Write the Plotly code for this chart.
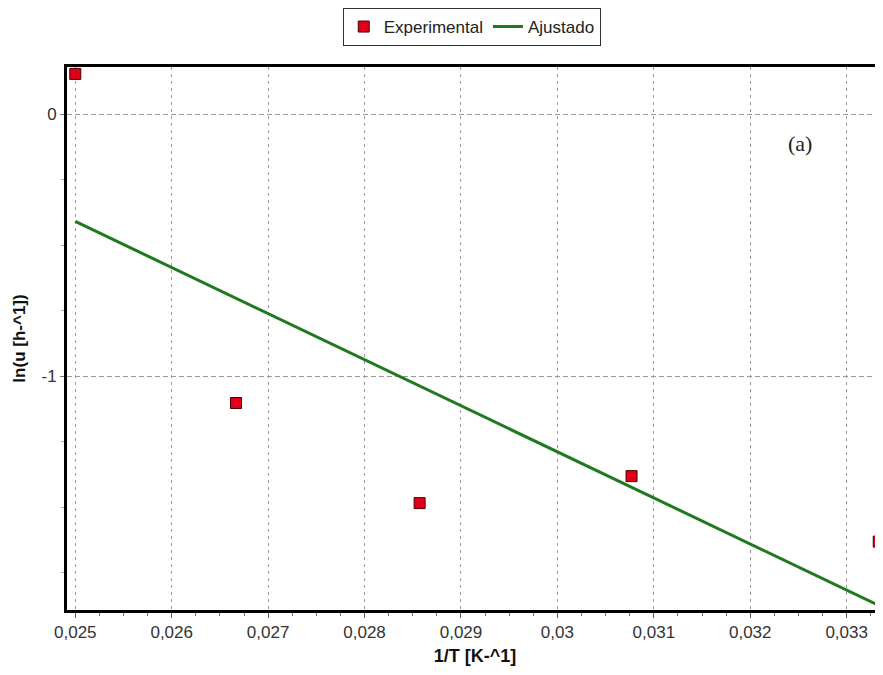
import plotly.graph_objects as go

# Data
inv_T = [0.025, 0.026667, 0.028571, 0.030769, 0.033333]
ln_u = [0.153, -1.103, -1.485, -1.382, -1.632]
fit_x = [0.025, 0.03333]
fit_y = [-0.41, -1.875]

x_tickvals = [0.025, 0.026, 0.027, 0.028, 0.029, 0.030, 0.031, 0.032, 0.033]
x_ticktext = ["0,025", "0,026", "0,027", "0,028", "0,029", "0,03", "0,031", "0,032", "0,033"]
y_tickvals = [0, -1]
y_ticktext = ["0", "-1"]

fig = go.Figure()
fig.add_trace(go.Scatter(
    x=inv_T, y=ln_u, mode="markers", name="Experimental",
    marker=dict(symbol="square", size=11, color="#e0001a",
                line=dict(color="#4a0000", width=1)),
))
fig.add_trace(go.Scatter(
    x=fit_x, y=fit_y, mode="lines", name="Ajustado",
    line=dict(color="#1f7a1f", width=3),
))

fig.add_annotation(
    x=0.032516, y=-0.111, xref="x", yref="y", text="(a)", showarrow=False,
    font=dict(family="Liberation Serif, DejaVu Serif, serif", size=22, color="#222"),
)

font_family = "Liberation Sans, Arial, sans-serif"
fig.update_layout(
    width=875, height=667,
    margin=dict(l=59, r=0, t=59, b=65),
    paper_bgcolor="white", plot_bgcolor="white",
    font=dict(family=font_family, size=16, color="#222"),
    showlegend=True,
    legend=dict(
        orientation="h", x=0.496, xanchor="center", y=1.1087, yanchor="top",
        bordercolor="#333", borderwidth=1, bgcolor="white",
        font=dict(family=font_family, size=17, color="#222"),
        itemwidth=30,
    ),
    xaxis=dict(
        range=[0.024914, 0.033377],
        tickmode="array", tickvals=x_tickvals, ticktext=x_ticktext,
        showline=True, linecolor="black", linewidth=3, mirror=True,
        ticks="outside", ticklen=5, tickcolor="#555", tickwidth=1,
        showgrid=True, gridcolor="#9a9a9a", gridwidth=1, griddash="3px,4px",
        zeroline=False,
        tickfont=dict(size=17, color="#333"),
        minor=dict(tickmode="linear", tick0=0.025, dtick=0.00025,
                   ticks="outside", ticklen=3, tickcolor="#777", showgrid=False),
        title=dict(text="<b>1/T [K-^1]</b>", font=dict(size=18, color="#111"), standoff=8),
    ),
    yaxis=dict(
        range=[-1.893, 0.1794],
        tickmode="array", tickvals=y_tickvals, ticktext=y_ticktext,
        showline=True, linecolor="black", linewidth=3, mirror=False,
        ticks="outside", ticklen=4, tickcolor="#777", tickwidth=1,
        showgrid=True, gridcolor="#9a9a9a", gridwidth=1, griddash="5px,3px",
        zeroline=False,
        tickfont=dict(size=17, color="#333"),
        minor=dict(tickmode="linear", tick0=0, dtick=0.25,
                   ticks="outside", ticklen=3, tickcolor="#aaa", showgrid=False),
        title=dict(text="<b>ln(u [h-^1])</b>", font=dict(size=17, color="#111"), standoff=12),
    ),
)

fig.write_html("out.html")
